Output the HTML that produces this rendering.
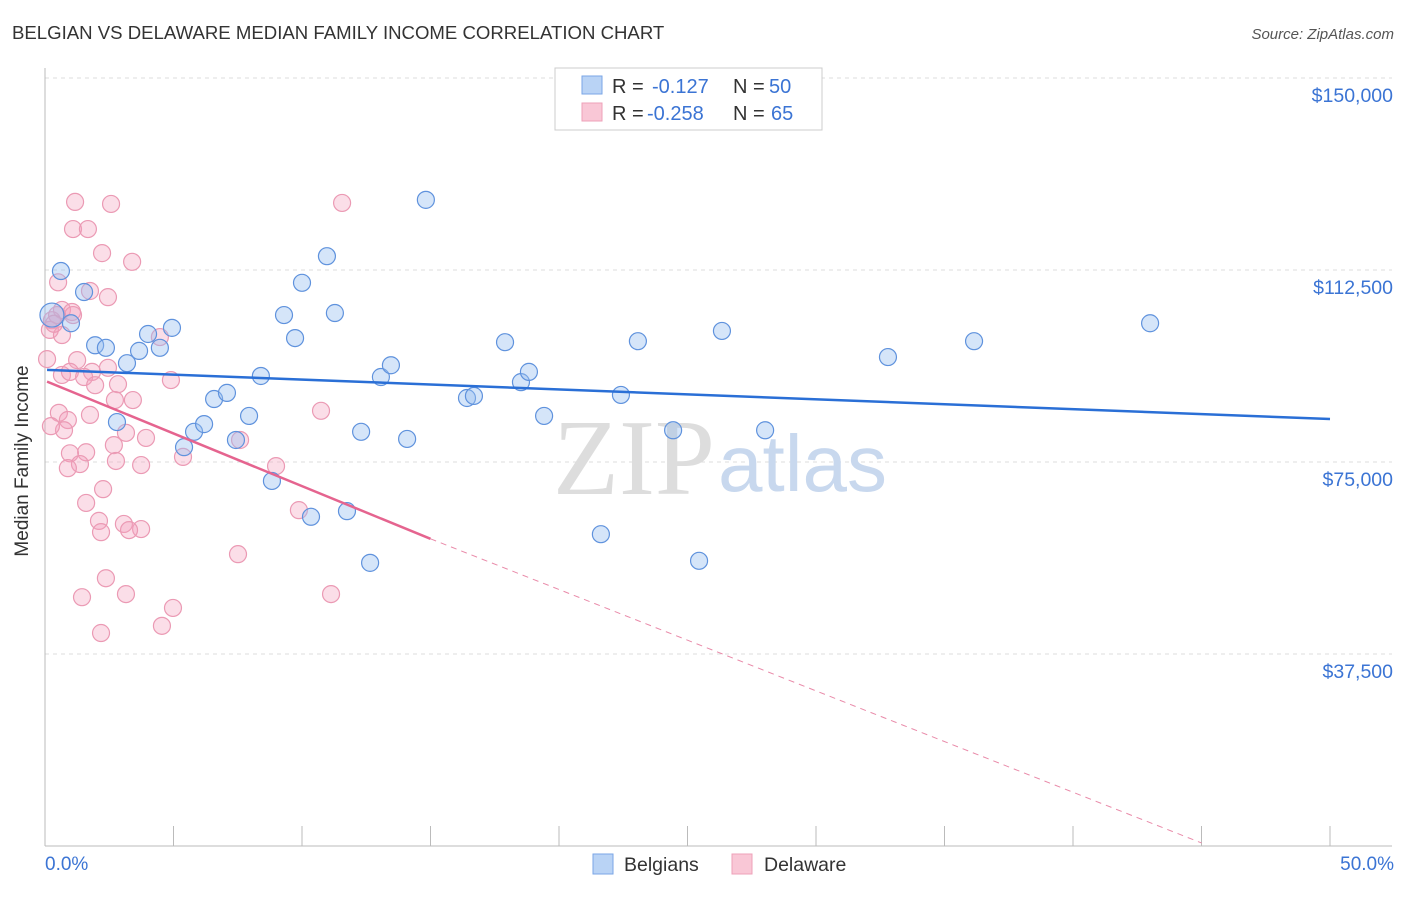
<!DOCTYPE html>
<html><head><meta charset="utf-8"><style>
body{margin:0;background:#fff;font-family:"Liberation Sans",sans-serif;}
svg text{font-family:"Liberation Sans",sans-serif;}
</style></head><body>
<svg id="chart" width="1406" height="892" viewBox="0 0 1406 892">
<text x="12" y="39" font-size="18.6" fill="#333">BELGIAN VS DELAWARE MEDIAN FAMILY INCOME CORRELATION CHART</text>
<text x="1394" y="39" font-size="15" fill="#555" text-anchor="end" font-style="italic">Source: ZipAtlas.com</text>
<g id="grid"></g>
<g>
<text x="553" y="494" font-size="108" fill="#ddd" font-family="Liberation Serif" style="font-family:'Liberation Serif',serif">ZIP</text>
<text x="718" y="491" font-size="80" fill="#c8d8ee">atlas</text>
</g>
<line x1="45" y1="68" x2="45" y2="846" stroke="#bbb"/>
<line x1="45" y1="846" x2="1392" y2="846" stroke="#bbb"/>
<g id="xticks"></g>
<text x="22" y="455" font-size="19" fill="#333" text-anchor="middle" transform="rotate(-90 28 455)">Median Family Income</text>
<text x="45" y="870" font-size="19" fill="#3b74d4">0.0%</text>
<text x="1394" y="870" font-size="19" fill="#3b74d4" text-anchor="end">50.0%</text>
<g id="pts"></g>
<g id="trends"></g>
<g>
<rect x="555" y="68" width="267" height="62" fill="#fff" stroke="#ccc"/>
<rect x="582" y="76" width="20" height="18" fill="#b9d3f5" stroke="#7aa6e6"/>
<rect x="582" y="103" width="20" height="18" fill="#f9c7d6" stroke="#eea0b8"/>
<text x="612" y="93" font-size="20" fill="#333">R = <tspan x="652" fill="#3b74d4">-0.127</tspan><tspan x="733">N = </tspan><tspan x="769" fill="#3b74d4">50</tspan></text>
<text x="612" y="120" font-size="20" fill="#333">R = <tspan x="647" fill="#3b74d4">-0.258</tspan><tspan x="733">N = </tspan><tspan x="771" fill="#3b74d4">65</tspan></text>
</g>
<g>
<rect x="593" y="854" width="20" height="20" fill="#b9d3f5" stroke="#7aa6e6"/>
<text x="624" y="871" font-size="19.5" fill="#333">Belgians</text>
<rect x="732" y="854" width="20" height="20" fill="#f9c7d6" stroke="#eea0b8"/>
<text x="764" y="871" font-size="19.5" fill="#333">Delaware</text>
</g>
</svg>
<script>
const yTicks=[37500,75000,112500,150000];
const yTickLabels=["$37,500","$75,000","$112,500","$150,000"];
const xTicks=[0,5,10,15,20,25,30,35,40,45,50];
const belgX=[0.62,1.52,1.01,1.95,2.37,3.19,2.80,3.66,4.01,4.47,4.94,5.41,5.80,6.19,6.58,7.08,7.43,7.94,8.40,8.83,9.30,9.73,10.0,10.35,10.97,11.28,11.75,12.30,12.65,13.07,13.46,14.09,14.82,16.42,16.69,17.90,18.52,18.83,19.42,21.63,22.41,23.07,24.44,25.45,26.34,28.02,32.80,36.15,43.00,0.27];
const belgY=[112300,108200,102100,97800,97300,94300,82800,96700,100000,97300,101200,77900,80900,82400,87300,88500,79300,84000,91800,71300,103700,99200,110000,64300,115200,104100,65400,80900,55300,91600,93900,79500,126200,87500,87900,98400,90600,92600,84000,60900,88100,98600,81200,55700,100600,81200,95500,98600,102100,103700];
const delX=[1.17,2.57,1.09,1.67,2.22,3.39,11.56,0.51,1.75,2.45,0.66,1.05,0.27,0.19,0.66,1.09,4.47,0.08,1.25,1.83,0.66,0.97,2.45,1.52,1.95,2.84,4.90,2.72,3.42,0.54,0.89,1.75,0.74,0.23,3.15,3.93,2.68,1.60,0.97,5.37,2.76,3.74,1.36,0.89,7.59,10.74,8.99,1.60,2.26,2.10,3.07,3.74,2.18,3.27,9.88,7.51,2.37,1.44,3.15,4.98,4.55,2.18,11.13,0.47,0.35];
const delY=[125800,125400,120500,120500,115800,114100,125600,110100,108400,107200,104700,104300,102700,100800,99800,103700,99400,95100,94900,92600,92000,92600,93400,91600,90000,90200,91000,87100,87100,84600,83200,84200,81200,82000,80700,79700,78300,76900,76700,76000,75200,74400,74600,73800,79300,85000,74200,67000,69700,63500,62900,61900,61300,61700,65600,57000,52300,48600,49200,46500,43000,41600,49200,103700,102000];
const blueTrend=[[0.08,93000],[50,83400]];
const pinkTrend=[[0.08,90700],[15,60000],[45,600]];
const X0=45,X1=1330,Y0=846,YPX=192/37500;
const sx=v=>X0+(X1-X0)*v/50, sy=v=>Y0-v*YPX;
const NS="http://www.w3.org/2000/svg";
function mk(t,a,p){const e=document.createElementNS(NS,t);for(const k in a)e.setAttribute(k,a[k]);p.appendChild(e);return e;}
const grid=document.getElementById('grid');
yTicks.forEach((v,i)=>{
 const l=mk('line',{x1:45,x2:1392,y1:sy(v),y2:sy(v),stroke:'#ddd','stroke-dasharray':'4,4'},grid);
 
 
 const t=mk('text',{x:1393,y:sy(v)+24,'font-size':19.5,fill:'#3b74d4','text-anchor':'end'},grid);
 t.textContent=yTickLabels[i];
 
 
});
const xt=document.getElementById('xticks');
xTicks.forEach(v=>{
 const l=mk('line',{x1:sx(v),x2:sx(v),y1:826,y2:846,stroke:'#bbb'},xt);
 
 
});
const pts=document.getElementById('pts');
delX.forEach((x,i)=>{
 const c=mk('circle',{cx:sx(x),cy:sy(delY[i]),r:8.5,fill:'rgba(244,160,188,0.35)',stroke:'#eb9ab4','stroke-width':1.2},pts);
 
 
});
belgX.forEach((x,i)=>{
 const c=mk('circle',{cx:sx(x),cy:sy(belgY[i]),r:(i===belgX.length-1?12:8.5),fill:'rgba(150,190,240,0.4)',stroke:'#5f92dd','stroke-width':1.2},pts);
 
 
});
const tr=document.getElementById('trends');
const b=mk('line',{x1:sx(blueTrend[0][0]),y1:sy(blueTrend[0][1]),x2:sx(blueTrend[1][0]),y2:sy(blueTrend[1][1]),stroke:'#2a6fd6','stroke-width':2.5},tr);


const p1=mk('line',{x1:sx(pinkTrend[0][0]),y1:sy(pinkTrend[0][1]),x2:sx(pinkTrend[1][0]),y2:sy(pinkTrend[1][1]),stroke:'#e5648f','stroke-width':2.5},tr);


const p2=mk('line',{x1:sx(pinkTrend[1][0]),y1:sy(pinkTrend[1][1]),x2:sx(pinkTrend[2][0]),y2:sy(pinkTrend[2][1]),stroke:'#e98aa9','stroke-width':1,'stroke-dasharray':'6,5'},tr);


</script>
</body></html>
